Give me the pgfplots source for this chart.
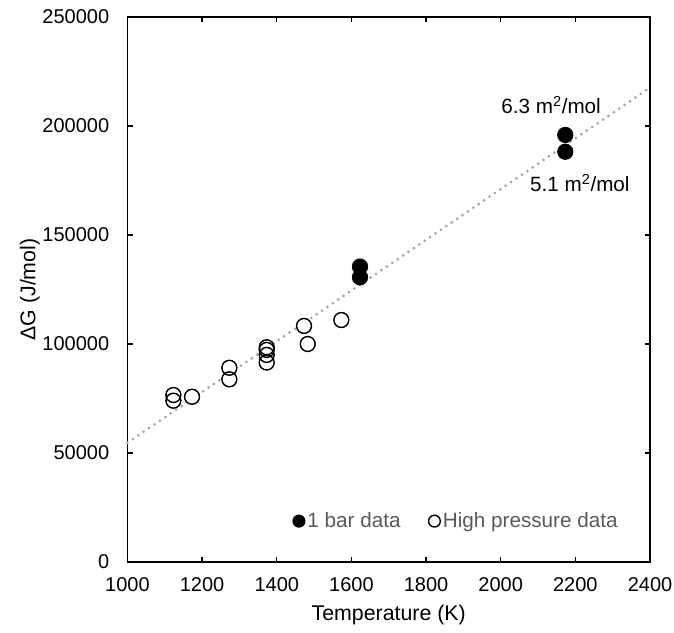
\documentclass[border=0pt]{standalone}
\usepackage{fontspec}
\setmainfont{Liberation Sans}
\usepackage{pgfplots}
\pgfplotsset{compat=1.18}
\definecolor{legtext}{RGB}{89,89,89}
\definecolor{dotgray}{RGB}{165,165,165}
\begin{document}
\fontsize{14.6}{17}\selectfont
\begin{tikzpicture}
\begin{axis}[
  scale only axis,
  width=391.9pt, height=408.75pt,
  xmin=1000, xmax=2400, ymin=0, ymax=250000,
  xtick={1000,1200,1400,1600,1800,2000,2200,2400},
  xticklabels={1000,1200,1400,1600,1800,2000,2200,2400},
  ytick={0,50000,100000,150000,200000,250000},
  yticklabels={0,50000,100000,150000,200000,250000},
  scaled ticks=false,
  tick align=inside,
  major tick length=4pt,
  axis line style={line width=1.1pt, black},
  every tick/.style={line width=1.1pt, black},
  tick label style={font=\fontsize{15}{17}\selectfont, inner sep=0pt},
  yticklabel style={xshift=-13.5pt},
  xticklabel style={yshift=-11.5pt},
  xlabel={Temperature (K)},
  ylabel={ΔG (J/mol)},
  label style={font=\fontsize{16}{19}\selectfont},
  xlabel style={at={(axis description cs:0.5,0)}, anchor=center, yshift=-39.5pt},
  ylabel style={at={(axis description cs:-0.1866,0.5)}, anchor=center},
  legend columns=2,
  legend style={at={(rel axis cs:0.63,0.075)}, anchor=center, draw=none, fill=none,
    text=legtext, font=\fontsize{15.5}{18}\selectfont, inner sep=0pt,
    /tikz/every even column/.append style={column sep=19pt}},
  legend image code/.code={\draw[#1,mark size=4.4pt] plot coordinates {(0.35cm,0cm)};},
  clip=false,
]
% trend line
\addplot[forget plot, color=dotgray, line width=2.3pt, line cap=round, dash pattern=on 0pt off 4.9pt]
  coordinates {(1000,54700) (2400,217600)};
% white fill of open markers
\addplot[forget plot, only marks, mark=*, mark size=5.6pt, mark options={fill=white, draw=none}]
  table {
x y
1123 76600
1123 74000
1173 75800
1273 89100
1273 83800
1373 98500
1373 97300
1373 95000
1373 91500
1473 108300
1483 100000
1573 111000
};
% 1 bar data
\addplot[only marks, mark=*, mark size=5.6pt, mark options={fill=black, draw=black, line width=1pt}]
  table {
x y
1623 135500
1623 130600
2173 195900
2173 188200
};
\addlegendentry{1 bar data}
% high pressure outline
\addplot[only marks, mark=o, mark size=5.6pt, mark options={draw=black, fill=none, line width=1.05pt}]
  table {
x y
1123 76600
1123 74000
1173 75800
1273 89100
1273 83800
1373 98500
1373 97300
1373 95000
1373 91500
1473 108300
1483 100000
1573 111000
};
\addlegendentry{High pressure data}
\node[anchor=center, inner sep=0pt, font=\fontsize{15.5}{18}\selectfont] at (axis cs:2135,209600) {6.3 m\textsuperscript{2}/mol};
\node[anchor=center, inner sep=0pt, font=\fontsize{15.5}{18}\selectfont] at (axis cs:2212,173800) {5.1 m\textsuperscript{2}/mol};
\path ([xshift=-95.6pt,yshift=-52.5pt]rel axis cs:0,0) rectangle ([xshift=18pt,yshift=12.75pt]rel axis cs:1,1);
\end{axis}
\end{tikzpicture}
\end{document}
